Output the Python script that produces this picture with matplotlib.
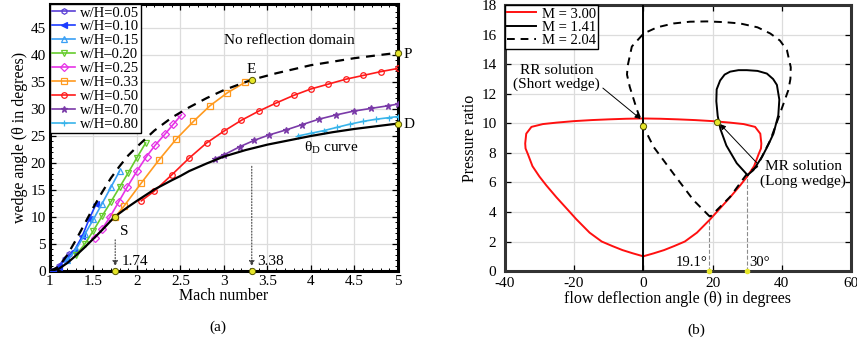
import numpy as np
import matplotlib.pyplot as plt
from matplotlib.ticker import MultipleLocator

plt.rcParams['font.family'] = ['Liberation Serif', 'DejaVu Serif']
plt.rcParams['mathtext.fontset'] = 'stix'
plt.rcParams['axes.unicode_minus'] = False

# ---------------- panel (a) data: wedge angle vs Mach number ----------------
det_M = [1.0, 1.1, 1.2, 1.3, 1.4, 1.5, 1.6, 1.7, 1.8, 1.9, 2.0, 2.2, 2.4, 2.6,
         2.8, 3.0, 3.32, 3.6, 4.0, 4.5, 5.0]
det_th = [0, 0.8, 3.0, 5.8, 8.8, 11.8, 14.6, 17.2, 19.4, 21.4, 23.0, 26.0, 28.4,
          30.3, 32.0, 33.5, 35.4, 36.6, 38.1, 39.4, 40.4]

thD_M = [1.0, 1.1, 1.2, 1.3, 1.4, 1.5, 1.6, 1.74, 1.9, 2.0, 2.2, 2.4, 2.5, 2.6,
         2.8, 3.0, 3.25, 3.5, 3.75, 4.0, 4.25, 4.5, 4.75, 5.0]
thD_th = [0, 0.4, 1.5, 2.9, 4.4, 6.0, 7.6, 10.0, 11.9, 13.0, 15.1, 16.8, 17.6,
          18.5, 19.9, 21.2, 22.4, 23.4, 24.2, 25.0, 25.7, 26.3, 26.8, 27.3]

wh_labels = ['w/H=0.05', 'w/H=0.10', 'w/H=0.15', 'w/H–0.20', 'w/H=0.25',
             'w/H=0.33', 'w/H=0.50', 'w/H=0.70', 'w/H=0.80']
wh_M = [
    [1.02, 1.1, 1.17, 1.22],
    [1.03, 1.1, 1.18, 1.28, 1.37, 1.45, 1.53],
    [1.2, 1.3, 1.4, 1.5, 1.6, 1.7, 1.8],
    [1.3, 1.4, 1.5, 1.6, 1.7, 1.8, 1.9, 2.0, 2.1],
    [1.52, 1.6, 1.69, 1.79, 1.89, 2.0, 2.11, 2.21, 2.32, 2.42, 2.51],
    [1.75, 1.85, 2.05, 2.25, 2.45, 2.65, 2.84, 3.04, 3.24],
    [2.05, 2.2, 2.4, 2.6, 2.8, 3.0, 3.2, 3.4, 3.6, 3.8, 4.0, 4.2, 4.4, 4.6, 4.8, 5.0],
    [2.9, 3.0, 3.18, 3.35, 3.52, 3.71, 3.9, 4.09, 4.29, 4.49, 4.69, 4.89, 5.0],
    [3.85, 4.0, 4.15, 4.3, 4.45, 4.6, 4.75, 4.9, 5.0],
]
wh_th = [
    [0, 1.0, 2.3, 3.2],
    [0, 0.8, 2.2, 3.8, 6.4, 9.6, 12.4],
    [2.0, 4.0, 6.8, 9.6, 12.5, 15.5, 18.5],
    [3.0, 5.0, 7.5, 10.2, 12.8, 15.5, 18.2, 21.0, 23.7],
    [6.2, 7.8, 10.0, 12.8, 15.6, 18.5, 21.2, 23.3, 25.3, 27.2, 28.9],
    [10.0, 12.0, 16.3, 20.5, 24.4, 27.7, 30.6, 33.0, 34.9],
    [13.0, 14.8, 17.8, 20.9, 23.7, 25.9, 27.9, 29.6, 31.1, 32.5, 33.7, 34.6,
     35.5, 36.2, 36.9, 37.5],
    [20.8, 21.5, 23.0, 24.2, 25.2, 26.1, 27.1, 28.1, 28.9, 29.6, 30.1, 30.6, 30.9],
    [25.0, 25.5, 26.0, 26.6, 27.2, 27.7, 28.1, 28.4, 28.6],
]
wh_colors = ['#5a3fd6', '#1c3cff', '#3aa0f5', '#66cc2e', '#e633e6',
             '#ff9a1f', '#ff1a1a', '#7a3aa8', '#38b4ea']
wh_markers = ['h', '<', '^', 'v', 'D', 's', 'o', '*', '+']

# named points
pt_S = (1.75, 10.0)
pt_E = (3.32, 35.4)
pt_P = (5.0, 40.4)
pt_D = (5.0, 27.3)

# ---------------- panel (b) data: shock polars ----------------
# M = 3.00 polar, right half (mirrored for the left half)
m3_th = [0, 3, 6, 9, 12, 15.5, 19.3, 22, 25.1, 28, 30, 32, 33.3, 34.0, 34.1,
         33.8, 32.3, 29, 25, 20, 15, 10, 5, 0]
m3_p = [1.0, 1.2, 1.42, 1.7, 2.0, 2.6, 3.5, 4.2, 5.0, 5.8, 6.4, 7.1, 7.9, 8.3,
        8.64, 9.3, 9.76, 9.95, 10.05, 10.15, 10.22, 10.27, 10.31, 10.33]

# M = 1.41 reflected polar (loop) around 30 deg
m141_th = [30.1, 27.0, 24.0, 22.3, 21.5, 21.1, 21.2, 22.2, 23.5, 25.1, 27.5,
           29.9, 33.0, 35.7, 37.5, 38.6, 39.3, 39.0, 37.6, 36.0, 34.3, 31.8, 30.1]
m141_p = [6.5, 7.3, 8.5, 9.6, 10.5, 11.5, 12.3, 12.9, 13.3, 13.5, 13.6, 13.6,
          13.55, 13.37, 13.0, 12.6, 11.6, 10.55, 9.3, 8.5, 7.73, 6.83, 6.5]

# M = 2.04 reflected polar (loop) from 19.1 deg
m204_th = [19.3, 14.5, 8.7, 3.0, 0.1, -1.8, -3.9, -4.7, -4.5, -3.3, 0.1, 4.0,
           8.7, 13.5, 18.4, 23.5, 28.0, 33.0, 36.7, 39.5, 41.5, 42.6, 42.5,
           41.9, 39.5, 36.7, 32.8, 30.0, 25.1, 22.0, 19.3]
m204_p = [3.67, 4.8, 6.6, 8.4, 9.76, 10.9, 12.47, 13.3, 13.9, 15.2, 16.08, 16.5,
          16.76, 16.88, 16.9, 16.85, 16.76, 16.5, 16.08, 15.6, 14.95, 13.8, 13.0,
          12.25, 10.67, 8.86, 7.06, 6.6, 5.03, 4.3, 3.67]

rr_pt = (0.0, 9.83)
mr_pt = (21.2, 10.12)
cut_th = [19.1, 30.0]
cut_p = [3.6, 6.45]

yellow = '#e6e62a'

fig = plt.figure(figsize=(8.57, 3.44), dpi=100)
ax1 = fig.add_axes([0.0583, 0.212, 0.406, 0.776])
ax2 = fig.add_axes([0.589, 0.212, 0.404, 0.773])

# ---------- panel (a) ----------
for M, th, c, mk, lab in zip(wh_M, wh_th, wh_colors, wh_markers, wh_labels):
    filled = mk in ('<', '*', '+')
    ax1.plot(M, th, color=c, lw=1.2, marker=mk, ms=4 if mk != '*' else 5,
             mfc=c if filled else 'none', mec=c, mew=0.9, label=lab, zorder=3)

ax1.plot(det_M, det_th, 'k--', lw=1.6, dashes=(4, 3), zorder=4)
ax1.plot(thD_M, thD_th, 'k-', lw=1.6, zorder=4)

for pt in (pt_S, pt_E, pt_P, pt_D):
    ax1.plot(*pt, 'o', ms=4.5, mfc=yellow, mec='#555500', mew=0.7, zorder=6,
             clip_on=False)
for m in (pt_S[0], pt_E[0]):
    ax1.plot(m, 0, 'o', ms=4.5, mfc=yellow, mec='#555500', mew=0.7, zorder=6,
             clip_on=False)

ax1.annotate('', xy=(pt_S[0], 0.4), xytext=(pt_S[0], 6.3),
             arrowprops=dict(arrowstyle='-|>', ls=':', lw=0.8, color='0.25',
                             mutation_scale=8))
ax1.annotate('', xy=(pt_E[0], 0.4), xytext=(pt_E[0], 19.9),
             arrowprops=dict(arrowstyle='-|>', ls=':', lw=0.8, color='0.25',
                             mutation_scale=8))
ax1.text(1.83, 1.2, '1.74', fontsize=11)
ax1.text(3.38, 1.2, '3.38', fontsize=11)
ax1.text(pt_S[0] + 0.05, pt_S[1] - 3.3, 'S', fontsize=11)
ax1.text(pt_E[0] - 0.06, pt_E[1] + 1.3, 'E', fontsize=11)
ax1.text(5.06, pt_P[1] - 0.9, 'P', fontsize=11)
ax1.text(5.06, pt_D[1] - 0.9, 'D', fontsize=11)
ax1.text(3.0, 42.0, 'No reflection domain', fontsize=11)
ax1.text(3.92, 22.8, r'$\mathregular{\theta_D}$ curve', fontsize=11, va='center')

ax1.set_xlim(1, 5)
ax1.set_ylim(0, 49.4)
ax1.set_xticks(np.arange(1, 5.01, 0.5))
ax1.set_xticklabels(['1', '1.5', '2', '2.5', '3', '3.5', '4', '4.5', '5'])
ax1.set_yticks(np.arange(0, 46, 5))
ax1.xaxis.set_minor_locator(MultipleLocator(0.1))
ax1.yaxis.set_minor_locator(MultipleLocator(1))
ax1.set_xlabel('Mach number', fontsize=11.5, labelpad=0)
ax1.set_ylabel('wedge angle (θ in degrees)', fontsize=11.5, labelpad=2)
ax1.grid(True, color='#dcdcdc', lw=0.9)
ax1.set_axisbelow(True)
leg1 = ax1.legend(loc='upper left', fontsize=10.5, handlelength=1.6,
                  handletextpad=0.3, labelspacing=0.05, borderpad=0.15,
                  borderaxespad=0.0, fancybox=False, framealpha=1)
leg1.get_frame().set_edgecolor('k')
leg1.get_frame().set_linewidth(1.0)

# ---------- panel (b) ----------
red_th = [-t for t in m3_th] + m3_th[::-1]
red_p = m3_p + m3_p[::-1]
ax2.plot(red_th, red_p, color='#ff1010', lw=1.4, label='M = 3.00', zorder=3)
ax2.plot([0, 0], [0, 18], color='k', lw=1.4, zorder=3)
ax2.plot(m141_th, m141_p, color='k', lw=1.4, label='M = 1.41', zorder=4)
ax2.plot(m204_th, m204_p, 'k--', lw=1.4, dashes=(4, 3), label='M = 2.04', zorder=4)

for t, p in zip(cut_th, cut_p):
    ax2.plot([t, t], [0, p], ls='--', color='0.55', lw=0.8, zorder=2)
    ax2.plot(t, 0, 'o', ms=3, mfc=yellow, mec=yellow, zorder=6, clip_on=False)
for pt in (rr_pt, mr_pt):
    ax2.plot(*pt, 'o', ms=4.5, mfc=yellow, mec='#555500', mew=0.7, zorder=6)

ax2.text(cut_th[0] - 0.6, 0.35, '19.1°', fontsize=10.5, ha='right')
ax2.text(cut_th[1] + 0.6, 0.35, '30°', fontsize=10.5, ha='left')
ax2.annotate('RR solution\n(Short wedge)', xy=(-0.8, 10.3), xytext=(-25, 13.1),
             fontsize=11, ha='center', va='center', linespacing=1.1,
             arrowprops=dict(arrowstyle='-|>', lw=0.7, color='k',
                             mutation_scale=8, shrinkA=0, shrinkB=0,
                             relpos=(1.0, 0.2)))
ax2.annotate('MR solution\n(Long wedge)', xy=(22.2, 9.95), xytext=(46.2, 6.6),
             fontsize=11, ha='center', va='center', multialignment='center',
             linespacing=1.15,
             arrowprops=dict(arrowstyle='-|>', lw=0.7, color='k',
                             mutation_scale=8, shrinkA=0, shrinkB=0,
                             relpos=(0.0, 0.75)))

ax2.set_xlim(-40, 60)
ax2.set_ylim(0, 18)
ax2.set_xticks(np.arange(-40, 61, 20))
ax2.set_yticks(np.arange(0, 19, 2))
ax2.set_xlabel('flow deflection angle (θ) in degrees', fontsize=11.5, labelpad=1)
ax2.set_ylabel('Pressure ratio', fontsize=11.5, labelpad=2)
ax2.grid(True, color='#dcdcdc', lw=0.9)
ax2.set_axisbelow(True)
leg2 = ax2.legend(loc='upper left', fontsize=10.5, handlelength=2.0,
                  handletextpad=0.4, labelspacing=0.0, borderpad=0.15,
                  borderaxespad=0.0, fancybox=False, framealpha=1)
leg2.get_frame().set_edgecolor('k')
leg2.get_frame().set_linewidth(1.0)

for ax, sc in ((ax1, 'k'), (ax2, '#333333')):
    for s in ax.spines.values():
        s.set_linewidth(2.2)
        s.set_color(sc)
    ax.tick_params(which='both', direction='in', top=True, right=True,
                   labelsize=11, pad=3)
    ax.tick_params(which='major', length=4, width=0.9)
    ax.tick_params(which='minor', length=2, width=0.7)
ax2.tick_params(axis='y', pad=6)
ax2.tick_params(axis='x', pad=4)

fig.text(0.254, 0.049, '(a)', fontsize=11, ha='center', va='center')
fig.text(0.813, 0.041, '(b)', fontsize=11, ha='center', va='center')

fig.savefig('out.png', dpi=100)
